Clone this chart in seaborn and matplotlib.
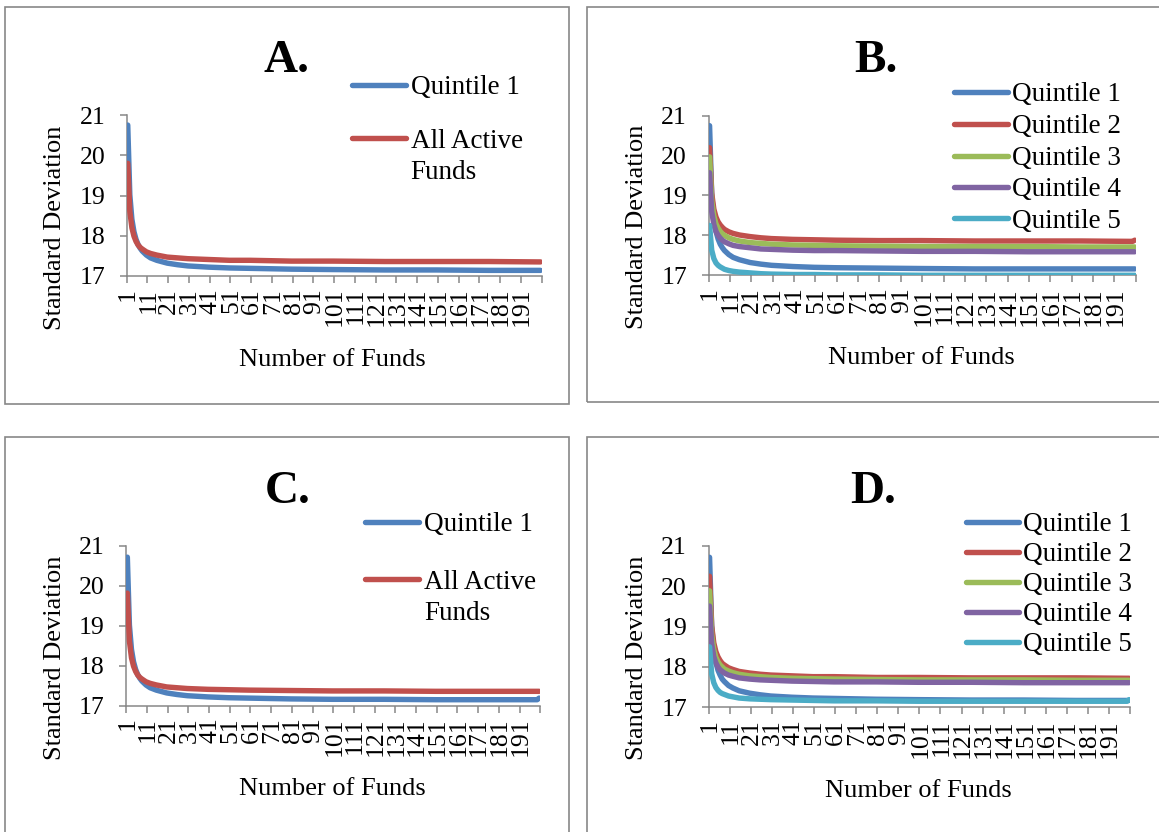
import numpy as np
import pandas as pd
import matplotlib
matplotlib.use("Agg")
import matplotlib.pyplot as plt
import seaborn as sns
from matplotlib.lines import Line2D
from matplotlib.patches import Rectangle

sns.set_style("white")
plt.rcParams["font.family"] = ["Liberation Serif", "DejaVu Serif"]
plt.rcParams["text.color"] = "black"

# ---------------- data ----------------
n_funds = [1, 2, 3, 4, 5, 6, 7, 8, 10, 12, 15, 20, 25, 30, 40, 50, 60, 80,
           100, 125, 150, 175, 199, 200]

a_q1 = [20.75, 19.02, 18.41, 18.10, 17.91, 17.78, 17.69, 17.62, 17.52, 17.45, 17.39, 17.32,
        17.28, 17.25, 17.22, 17.20, 17.19, 17.17, 17.16, 17.15, 17.15, 17.14, 17.14, 17.14]
a_all = [19.80, 18.61, 18.20, 17.99, 17.86, 17.77, 17.71, 17.67, 17.60, 17.56, 17.52, 17.47,
         17.45, 17.43, 17.41, 17.39, 17.39, 17.37, 17.37, 17.36, 17.36, 17.36, 17.35, 17.35]

b_q1 = [20.75, 19.02, 18.41, 18.10, 17.91, 17.78, 17.69, 17.62, 17.52, 17.45, 17.39, 17.32,
        17.28, 17.25, 17.22, 17.20, 17.19, 17.18, 17.17, 17.16, 17.16, 17.16, 17.16, 17.16]
b_q2 = [20.20, 19.06, 18.66, 18.46, 18.34, 18.26, 18.20, 18.15, 18.09, 18.05, 18.01, 17.97,
        17.94, 17.92, 17.90, 17.89, 17.88, 17.87, 17.87, 17.86, 17.86, 17.86, 17.85, 17.88]
b_q3 = [19.97, 18.87, 18.49, 18.29, 18.18, 18.10, 18.04, 18.00, 17.94, 17.90, 17.86, 17.82,
        17.80, 17.78, 17.76, 17.75, 17.74, 17.73, 17.72, 17.72, 17.72, 17.71, 17.71, 17.71]
b_q4 = [19.57, 18.60, 18.27, 18.10, 18.00, 17.93, 17.88, 17.84, 17.79, 17.75, 17.72, 17.69,
        17.66, 17.65, 17.63, 17.62, 17.62, 17.61, 17.60, 17.60, 17.59, 17.59, 17.59, 17.59]
b_q5 = [18.25, 17.63, 17.42, 17.31, 17.25, 17.21, 17.18, 17.15, 17.12, 17.10, 17.08, 17.06,
        17.04, 17.03, 17.02, 17.02, 17.01, 17.01, 17.00, 17.00, 17.00, 17.00, 17.00, 17.00]

c_q1 = [20.72, 19.02, 18.41, 18.10, 17.91, 17.78, 17.69, 17.62, 17.52, 17.45, 17.39, 17.32,
        17.28, 17.25, 17.22, 17.20, 17.19, 17.17, 17.16, 17.16, 17.15, 17.15, 17.15, 17.19]
c_all = [19.82, 18.62, 18.20, 17.99, 17.86, 17.77, 17.71, 17.67, 17.60, 17.56, 17.52, 17.47,
         17.45, 17.43, 17.41, 17.40, 17.39, 17.38, 17.37, 17.37, 17.36, 17.36, 17.36, 17.36]

d_q1 = [20.72, 19.02, 18.42, 18.11, 17.92, 17.80, 17.70, 17.64, 17.54, 17.48, 17.41, 17.35,
        17.31, 17.28, 17.25, 17.23, 17.22, 17.20, 17.19, 17.18, 17.18, 17.17, 17.17, 17.17]
d_q2 = [20.25, 19.02, 18.60, 18.38, 18.25, 18.16, 18.09, 18.05, 17.98, 17.94, 17.89, 17.85,
        17.82, 17.80, 17.78, 17.76, 17.76, 17.74, 17.74, 17.73, 17.73, 17.73, 17.72, 17.72]
d_q3 = [19.89, 18.81, 18.43, 18.24, 18.13, 18.05, 18.00, 17.95, 17.90, 17.86, 17.82, 17.78,
        17.76, 17.74, 17.72, 17.71, 17.70, 17.69, 17.68, 17.68, 17.68, 17.67, 17.67, 17.67]
d_q4 = [19.51, 18.58, 18.26, 18.10, 18.00, 17.93, 17.89, 17.85, 17.80, 17.77, 17.73, 17.70,
        17.68, 17.67, 17.65, 17.64, 17.63, 17.63, 17.62, 17.62, 17.61, 17.61, 17.61, 17.61]
d_q5 = [18.50, 17.83, 17.61, 17.49, 17.42, 17.37, 17.34, 17.32, 17.28, 17.26, 17.23, 17.21,
        17.20, 17.19, 17.18, 17.17, 17.16, 17.16, 17.15, 17.15, 17.15, 17.15, 17.15, 17.19]

x_tick_labels = ["1", "11", "21", "31", "41", "51", "61", "71", "81", "91", "101", "111",
                 "121", "131", "141", "151", "161", "171", "181", "191"]
y_ticks = [17, 18, 19, 20, 21]

BLUE, RED, GREEN, PURPLE, CYAN = "#4F81BD", "#C0504D", "#9BBB59", "#8064A2", "#4BACC6"
GRAY = "#878787"

# ---------------- layout ----------------
W, H = 1159, 832
fig = plt.figure(figsize=(W / 100, H / 100), dpi=100)


def fx(x):
    return x / W


def fy(y):
    return 1 - y / H


panels = [
    dict(title="A.", box=(4.5, 7, 569.3, 404), ax=(126.7, 115, 541.5, 276),
         title_xy=(287, 71.7), ylab_xy=(54.8, 227.5), xlab_xy=(332.5, 366),
         series=[("Quintile 1", a_q1, BLUE), ("All Active\nFunds", a_all, RED)],
         leg_x=(352.5, 406.2, 410.6), leg_y=[85, 138.3]),
    dict(title="B.", box=(586.6, 7, 1170, 402), ax=(708.5, 115.7, 1135.8, 275.3),
         title_xy=(876, 71.7), ylab_xy=(636.5, 227), xlab_xy=(921.5, 364),
         series=[("Quintile 1", b_q1, BLUE), ("Quintile 2", b_q2, RED),
                 ("Quintile 3", b_q3, GREEN), ("Quintile 4", b_q4, PURPLE),
                 ("Quintile 5", b_q5, CYAN)],
         leg_x=(953.7, 1007.6, 1012), leg_y=[91.7, 124, 155.5, 187, 218.3]),
    dict(title="C.", box=(4.5, 437, 569.3, 850), ax=(126.3, 546, 540.2, 705.7),
         title_xy=(288, 503.3), ylab_xy=(54.8, 657.5), xlab_xy=(332.5, 795),
         series=[("Quintile 1", c_q1, BLUE), ("All Active\nFunds", c_all, RED)],
         leg_x=(365.4, 419, 424), leg_y=[521.7, 579.3]),
    dict(title="D.", box=(586.6, 437, 1170, 850), ax=(708.5, 546, 1130.2, 707.3),
         title_xy=(873.5, 503.3), ylab_xy=(636.5, 657.5), xlab_xy=(918.8, 796.7),
         series=[("Quintile 1", d_q1, BLUE), ("Quintile 2", d_q2, RED),
                 ("Quintile 3", d_q3, GREEN), ("Quintile 4", d_q4, PURPLE),
                 ("Quintile 5", d_q5, CYAN)],
         leg_x=(966, 1019.4, 1023), leg_y=[521.7, 551.7, 581.7, 611.7, 641.7]),
]

LW = 3.9
TICK_FS = 18.5
for p in panels:
    # border box
    x0, y0, x1, y1 = p["box"]
    fig.add_artist(Rectangle((fx(x0), fy(y1)), fx(x1) - fx(x0), fy(y0) - fy(y1),
                             transform=fig.transFigure, fill=False,
                             edgecolor=GRAY, lw=1.2, zorder=0))
    # axes
    l, t, r, b = p["ax"]
    ax = fig.add_axes([fx(l), fy(b), fx(r) - fx(l), fy(t) - fy(b)])
    ax.set_facecolor("none")
    rows = []
    for name, vals, col in p["series"]:
        for n, v in zip(n_funds, vals):
            rows.append((name, n, v))
    df = pd.DataFrame(rows, columns=["series", "n", "sd"])
    names = [s[0] for s in p["series"]]
    pal = {s[0]: s[2] for s in p["series"]}
    sns.lineplot(data=df, x="n", y="sd", hue="series", hue_order=names, palette=pal,
                 legend=False, ax=ax, linewidth=LW, solid_capstyle="round", zorder=3,
                 estimator=None, sort=True)
    ax.set_xlim(0.5, 200.5)
    ax.set_ylim(17, 21)
    ax.set_xlabel("")
    ax.set_ylabel("")
    for s in ["top", "right"]:
        ax.spines[s].set_visible(False)
    for s in ["left", "bottom"]:
        ax.spines[s].set_color(GRAY)
        ax.spines[s].set_linewidth(1.1)
    ax.set_xticks(np.arange(0.5, 201, 10))
    ax.set_xticklabels([])
    ax.set_xticks(np.arange(1, 200, 10), minor=True)
    ax.set_xticklabels(x_tick_labels, minor=True, rotation=90, fontsize=TICK_FS)
    ax.tick_params(axis="x", which="major", length=5, width=1.1, color=GRAY,
                   direction="out", bottom=True)
    ax.tick_params(axis="x", which="minor", length=0, pad=8.5, bottom=True,
                   labelcolor="black")
    ax.set_yticks(y_ticks)
    ax.set_yticklabels([str(v) for v in y_ticks], fontsize=TICK_FS)
    ax.tick_params(axis="y", length=5, width=1.1, color=GRAY, direction="out",
                   left=True, pad=10.5, labelcolor="black")

    # texts
    fig.text(fx(p["title_xy"][0]), fy(p["title_xy"][1]), p["title"], ha="center",
             va="baseline", fontsize=34, fontweight="bold")
    fig.text(fx(p["ylab_xy"][0]), fy(p["ylab_xy"][1]), "Standard Deviation",
             rotation=90, ha="center", va="center", fontsize=19)
    fig.text(fx(p["xlab_xy"][0]), fy(p["xlab_xy"][1]), "Number of Funds",
             ha="center", va="baseline", fontsize=19)

    # legend
    lx0, lx1, tx = p["leg_x"]
    for (name, vals, col), ly in zip(p["series"], p["leg_y"]):
        fig.add_artist(Line2D([fx(lx0), fx(lx1)], [fy(ly), fy(ly)],
                              transform=fig.transFigure, color=col, lw=LW,
                              solid_capstyle="round"))
        for i, part in enumerate(name.split("\n")):
            fig.text(fx(tx), fy(ly + 9.3 + 31 * i), part, ha="left", va="baseline",
                     fontsize=19.5)

fig.savefig("out.png", dpi=100)
